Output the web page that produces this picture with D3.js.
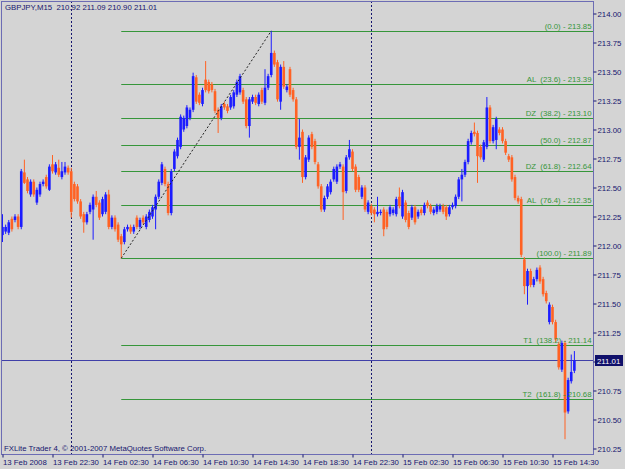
<!DOCTYPE html>
<html>
<head>
<meta charset="utf-8">
<script src="https://cdn.jsdelivr.net/npm/d3@7"></script>
<style>
body{margin:0;background:#d4d4d4;}
svg{display:block;}
text{font-family:"Liberation Sans",Arial,sans-serif;font-size:7.8px;}
</style>
</head>
<body>
<svg id="chart" width="625" height="469"></svg>
<script>
let symbol = "GBPJPY,M15";
let barStart = Date.UTC(2008, 1, 13, 18, 30);   // first visible M15 bar

let opens = [
 212.09,212.12,212.11,212.23,212.22,212.25,212.16,212.63,212.57,212.44,
 212.55,212.37,212.44,212.53,212.59,212.48,212.70,212.63,212.67,212.59,
 212.63,212.67,212.64,212.53,212.51,212.38,212.27,212.20,212.29,212.31,
 212.42,212.37,212.27,212.29,212.44,212.16,212.24,212.18,212.08,212.03,
 212.14,212.16,212.12,212.24,212.16,212.24,212.16,212.22,212.25,212.31,
 212.42,212.54,212.66,212.53,212.28,212.66,212.77,212.85,213.00,213.03,
 213.10,213.17,213.45,213.30,213.22,213.43,213.41,213.39,213.33,213.17,
 213.10,213.22,213.20,213.19,213.20,213.30,213.32,213.34,213.26,213.03,
 213.24,213.28,213.22,213.34,213.23,213.36,213.47,213.66,213.58,213.24,
 213.54,213.34,213.52,213.34,213.26,212.85,212.98,212.59,212.74,212.96,
 212.90,212.70,212.51,212.31,212.42,212.46,212.57,212.55,212.68,212.68,
 212.47,212.76,212.81,212.68,212.59,212.42,212.50,212.29,212.34,212.31,
 212.27,212.28,212.31,212.29,212.27,212.28,212.27,212.42,212.25,212.37,
 212.28,212.24,212.33,212.25,212.31,212.28,212.37,212.34,212.28,212.29,
 212.31,212.34,212.33,212.27,212.33,212.34,212.42,212.57,212.61,212.72,
 212.89,212.98,212.97,212.85,212.74,212.85,213.19,212.90,212.91,213.00,
 213.00,212.90,212.77,212.76,212.59,212.41,212.40,211.88,211.65,211.78,
 211.66,211.71,211.81,211.71,211.59,211.34,211.47,211.34,211.15,210.93,
 211.16,210.57,210.83,210.92
];
let highs = [
 212.27,212.18,212.22,212.25,212.27,212.27,212.66,212.74,212.59,212.57,
 212.57,212.50,212.55,212.57,212.61,212.70,212.78,212.72,212.74,212.72,
 212.72,212.69,212.67,212.55,212.53,212.40,212.29,212.29,212.37,212.44,
 212.47,212.39,212.42,212.46,212.48,212.26,212.26,212.20,212.10,212.16,
 212.18,212.18,212.18,212.26,212.24,212.26,212.27,212.31,212.35,212.44,
 212.57,212.72,212.68,212.55,212.66,212.83,212.93,213.13,213.12,213.21,
 213.19,213.49,213.47,213.32,213.36,213.59,213.43,213.41,213.35,213.19,
 213.22,213.24,213.22,213.30,213.34,213.43,213.48,213.36,213.28,213.28,
 213.30,213.30,213.32,213.36,213.52,213.48,213.85,213.68,213.60,213.56,
 213.59,213.39,213.54,213.36,213.28,213.09,213.00,212.78,212.95,212.98,
 212.92,212.72,212.53,212.43,212.53,212.57,212.68,212.70,212.72,212.70,
 212.78,212.91,212.83,212.70,212.61,212.52,212.52,212.39,212.36,212.33,
 212.42,212.31,212.33,212.31,212.35,212.33,212.42,212.50,212.48,212.39,
 212.30,212.35,212.35,212.31,212.33,212.37,212.39,212.36,212.33,212.36,
 212.36,212.36,212.35,212.35,212.37,212.44,212.59,212.66,212.74,212.92,
 212.99,213.06,212.99,212.87,212.91,213.28,213.21,213.04,213.11,213.02,
 213.02,212.92,212.79,212.78,212.61,212.43,212.42,211.90,211.80,211.80,
 211.73,211.81,211.83,211.73,211.61,211.51,211.49,211.36,211.17,211.18,
 211.18,210.86,211.06,211.09
];
let lows = [
 212.03,212.10,212.09,212.12,212.20,212.14,212.14,212.53,212.45,212.42,
 212.42,212.35,212.42,212.51,212.49,212.47,212.62,212.61,212.59,212.57,
 212.61,212.61,212.24,212.38,212.36,212.23,212.11,212.18,212.27,212.05,
 212.33,212.22,212.25,212.27,212.14,212.14,212.12,212.03,211.89,212.01,
 212.12,212.10,212.10,212.14,212.14,212.18,212.14,212.20,212.23,212.14,
 212.40,212.52,212.51,212.26,212.26,212.64,212.75,212.83,212.98,213.01,
 213.08,213.15,213.22,213.21,213.20,213.32,213.31,213.32,213.14,212.97,
 213.08,213.17,213.14,213.17,213.18,213.28,213.30,213.22,213.01,212.93,
 213.22,213.21,213.20,213.22,213.21,213.34,213.45,213.54,213.24,213.17,
 213.35,213.32,213.28,213.24,212.83,212.74,212.54,212.57,212.72,212.83,
 212.70,212.49,212.29,212.29,212.40,212.44,212.55,212.53,212.66,212.22,
 212.45,212.74,212.64,212.46,212.46,212.40,212.29,212.27,212.26,212.20,
 212.25,212.26,212.08,212.14,212.25,212.26,212.25,212.32,212.23,212.20,
 212.14,212.22,212.18,212.23,212.26,212.26,212.32,212.27,212.26,212.27,
 212.29,212.27,212.22,212.25,212.31,212.32,212.40,212.38,212.59,212.70,
 212.87,212.94,212.54,212.74,212.72,212.83,212.88,212.88,212.83,212.95,
 212.88,212.78,212.72,212.55,212.39,212.36,211.90,211.58,211.49,211.64,
 211.64,211.69,211.67,211.56,211.50,211.32,211.32,211.17,210.93,210.91,
 210.33,210.55,210.81,210.90
];
let closes = [
 212.16,212.16,212.20,212.14,212.25,212.16,212.64,212.54,212.47,212.55,
 212.44,212.48,212.53,212.55,212.51,212.68,212.64,212.70,212.61,212.64,
 212.68,212.63,212.29,212.40,212.38,212.25,212.20,212.27,212.35,212.42,
 212.35,212.24,212.40,212.44,212.16,212.24,212.14,212.05,212.01,212.14,
 212.16,212.12,212.16,212.16,212.22,212.20,212.25,212.29,212.33,212.42,
 212.55,212.70,212.53,212.28,212.64,212.81,212.91,213.11,213.10,213.19,
 213.17,213.46,213.24,213.23,213.34,213.34,213.33,213.34,213.16,213.10,
 213.20,213.19,213.16,213.28,213.32,213.41,213.46,213.24,213.03,213.26,
 213.28,213.23,213.30,213.24,213.36,213.46,213.66,213.56,213.26,213.54,
 213.37,213.37,213.30,213.26,212.85,212.93,212.59,212.76,212.93,212.85,
 212.72,212.51,212.31,212.41,212.51,212.55,212.66,212.68,212.70,212.46,
 212.76,212.83,212.66,212.48,212.48,212.50,212.31,212.37,212.28,212.27,
 212.29,212.29,212.14,212.16,212.33,212.31,212.40,212.34,212.46,212.22,
 212.16,212.33,212.20,212.29,212.28,212.35,212.34,212.29,212.31,212.34,
 212.34,212.29,212.25,212.33,212.35,212.42,212.57,212.61,212.72,212.90,
 212.97,212.96,212.77,212.76,212.89,213.19,212.90,213.02,213.09,212.97,
 212.90,212.80,212.74,212.57,212.41,212.38,211.92,211.65,211.78,211.66,
 211.71,211.79,211.69,211.58,211.52,211.49,211.34,211.19,210.95,211.16,
 210.56,210.84,210.91,211.01
];

let priceTicks = [210.25,210.50,210.75,211.00,211.25,211.50,211.75,212.00,
                  212.25,212.50,212.75,213.00,213.25,213.50,213.75,214.00];
let timeLabels = ["13 Feb 2008","13 Feb 22:30","14 Feb 02:30","14 Feb 06:30",
                  "14 Feb 10:30","14 Feb 14:30","14 Feb 18:30","14 Feb 22:30",
                  "15 Feb 02:30","15 Feb 06:30","15 Feb 10:30","15 Feb 14:30"];
let separatorDays = [Date.UTC(2008,1,14), Date.UTC(2008,1,15)];

// fibonacci retracement drawn from the swing low bar to the swing high bar
let fibLowBar = 38, fibHighBar = 86;
let fibTags   = ["", "AL", "DZ", "", "DZ", "AL", "", "T1", "T2"];
let fibRatios = [0.0, 23.6, 38.2, 50.0, 61.8, 76.4, 100.0, 138.2, 161.8];
let fibPrices = [213.85, 213.39, 213.10, 212.87, 212.64, 212.35, 211.89, 211.14, 210.68];

let watermark = "FXLite Trader 4, \u00a9 2001-2007 MetaQuotes Software Corp.";

let navy = "#15156e", frameCol = "#6c6cb4", green = "#36963a";
let bullCol = "#1c1cff", bearCol = "#ff6224";

let svg = d3.select("#chart");
let plotRight = 593.5, plotBottom = 454.5;

let barTime = i => new Date(barStart + i * 15 * 60000);
let x = d3.scaleUtc()
    .domain([barTime(0), barTime(176)])
    .range([2.5, 552.5]);
let y = d3.scaleLinear()
    .domain([210.25, 214])
    .range([448.5, 13.5]);

let bars = opens.map((o, i) => ({
    t: barTime(i), o: o, h: highs[i], l: lows[i], c: closes[i]
}));

svg.append("rect").attr("width", 625).attr("height", 469).attr("fill", "#d4d4d4");

svg.append("clipPath").attr("id", "plotclip")
    .append("rect").attr("x", 2).attr("y", 1)
    .attr("width", plotRight - 2).attr("height", plotBottom - 1);

let plot = svg.append("g").attr("clip-path", "url(#plotclip)");

// fibo levels
let fibX0 = x(barTime(fibLowBar));
plot.selectAll(".fib")
    .data(fibPrices)
    .enter().append("line")
    .attr("x1", fibX0).attr("x2", plotRight)
    .attr("y1", d => Math.round(y(d)) + 0.5)
    .attr("y2", d => Math.round(y(d)) + 0.5)
    .attr("stroke", green).attr("stroke-width", 1);

// day separators
plot.selectAll(".sep")
    .data(separatorDays)
    .enter().append("line")
    .attr("x1", d => Math.round(x(new Date(d))) + 0.5)
    .attr("x2", d => Math.round(x(new Date(d))) + 0.5)
    .attr("y1", 1).attr("y2", plotBottom)
    .attr("stroke", navy).attr("stroke-dasharray", "2,2");

// bid line
let last = bars[bars.length - 1];
plot.append("line")
    .attr("x1", 0).attr("x2", plotRight)
    .attr("y1", Math.round(y(last.c)) + 0.5).attr("y2", Math.round(y(last.c)) + 0.5)
    .attr("stroke", "#4040a8");

// candles
let candle = plot.selectAll(".bar")
    .data(bars)
    .enter().append("g");

candle.append("line")
    .attr("x1", d => x(d.t)).attr("x2", d => x(d.t))
    .attr("y1", d => y(d.h)).attr("y2", d => y(d.l))
    .attr("stroke", d => d.c >= d.o ? bullCol : bearCol)
    .attr("stroke-width", 1);

candle.append("rect")
    .attr("x", d => x(d.t) - 1.3)
    .attr("width", 2.6)
    .attr("y", d => y(Math.max(d.o, d.c)))
    .attr("height", d => Math.max(1, Math.abs(y(d.o) - y(d.c))))
    .attr("fill", d => d.c >= d.o ? bullCol : bearCol);

// fibo trend line
plot.append("line")
    .attr("x1", fibX0).attr("y1", y(fibPrices[6]))
    .attr("x2", x(barTime(fibHighBar))).attr("y2", y(fibPrices[0]))
    .attr("stroke", "#222").attr("stroke-dasharray", "2,2");

// fibo labels
plot.selectAll(".fiblabel")
    .data(fibPrices)
    .enter().append("text")
    .attr("x", plotRight - 2)
    .attr("y", d => Math.round(y(d)) - 2)
    .attr("text-anchor", "end")
    .attr("fill", green)
    .style("white-space", "pre")
    .text((d, i) => (fibTags[i] ? fibTags[i] + "  " : "") +
        "(" + fibRatios[i].toFixed(1) + ") - " + d.toFixed(2));

// frame
svg.append("rect")
    .attr("x", 1.5).attr("y", 1.5)
    .attr("width", plotRight - 1.5).attr("height", plotBottom - 1.5)
    .attr("fill", "none").attr("stroke", frameCol);

// price axis
let yAxis = svg.append("g")
    .attr("transform", "translate(" + plotRight + ",0)")
    .call(d3.axisRight(y).tickValues(priceTicks).tickSize(3).tickPadding(1)
        .tickFormat(d3.format(".2f")));
yAxis.select(".domain").remove();
yAxis.selectAll("line").attr("stroke", navy);
yAxis.selectAll("text").attr("fill", navy);

// time axis
let tickDates = timeLabels.map((d, i) => barTime(i * 16));
let xAxis = svg.append("g")
    .attr("transform", "translate(0," + plotBottom + ")")
    .call(d3.axisBottom(x).tickValues(tickDates).tickSize(3).tickPadding(2)
        .tickFormat((d, i) => timeLabels[i]));
xAxis.select(".domain").remove();
xAxis.selectAll("line").attr("stroke", navy);
xAxis.selectAll("text").attr("fill", navy).attr("text-anchor", "start");
xAxis.attr("font-family", null).attr("font-size", null);
yAxis.attr("font-family", null).attr("font-size", null);

// current price tag
let tagY = Math.round(y(last.c)) + 0.5;
svg.append("rect")
    .attr("x", 595).attr("y", tagY - 5.5)
    .attr("width", 28).attr("height", 11)
    .attr("fill", "#10106a");
svg.append("text")
    .attr("x", 597).attr("y", tagY + 3)
    .attr("fill", "white")
    .text(last.c.toFixed(2));

// header and watermark
svg.append("text")
    .attr("x", 5).attr("y", 10)
    .attr("fill", navy)
    .style("white-space", "pre")
    .text(symbol + "  " + [last.o, last.h, last.l, last.c].map(v => v.toFixed(2)).join(" "));

svg.append("text")
    .attr("x", 4).attr("y", 451)
    .attr("fill", navy)
    .text(watermark);
</script>
</body>
</html>
